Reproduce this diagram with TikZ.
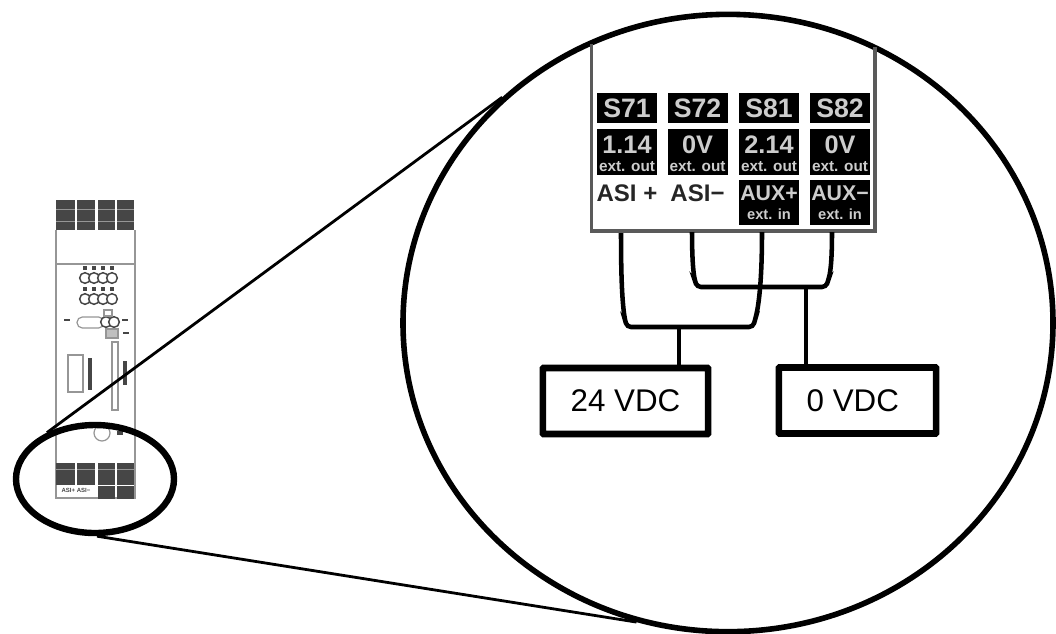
\documentclass[tikz,border=0pt]{standalone}
\usepackage{fontspec}
\setmainfont{Liberation Sans}
\usepackage{xcolor}
\usetikzlibrary{shapes.geometric}
\definecolor{panelgray}{RGB}{90,90,90}
\definecolor{devgray}{RGB}{150,150,150}
\definecolor{devdark}{RGB}{70,70,70}
\definecolor{termtext}{RGB}{205,205,205}

\begin{document}
\begin{tikzpicture}[x=0.75pt,y=-0.75pt]
	\tikzset{
		wire/.style={draw=black, line width=3.4pt, rounded corners=3pt},
		zoomline/.style={draw=black, line width=2.1pt},
		lens/.style={
			shape=ellipse,
			draw=black,
			line width=4.2pt,
			minimum width=487.5pt,
			minimum height=463pt,
			inner sep=0pt
		},
		spot/.style={
			shape=ellipse,
			draw=black,
			line width=4.8pt,
			minimum width=118.5pt,
			minimum height=81pt,
			inner sep=0pt
		},
		supply/.style={
			shape=rectangle,
			draw=black,
			line width=4.9pt,
			fill=white,
			rounded corners=0.5pt,
			minimum height=49.5pt,
			font=\fontsize{23.5}{26}\selectfont,
			text=black
		},
		termbox/.style={
			shape=rectangle,
			fill=black,
			minimum width=45pt,
			inner sep=0pt
		},
		termname/.style={font=\fontsize{20}{22}\selectfont\bfseries, text=termtext, inner sep=0pt},
		termval/.style={font=\fontsize{19}{21}\selectfont\bfseries, text=termtext, inner sep=0pt},
		termext/.style={font=\fontsize{11.5}{13}\selectfont\bfseries, text=termtext, inner sep=0pt},
		asilabel/.style={font=\fontsize{18}{20}\selectfont\bfseries, text=black!85, inner sep=0pt},
		devline/.style={draw=devgray, line width=0.9pt},
		devblock/.style={shape=rectangle, fill=devdark, inner sep=0pt},
		devled/.style={shape=circle, draw=devdark, line width=1.1pt, fill=white, minimum size=8pt, inner sep=0pt}
	}
	\clip (0,0) rectangle (1056,633);

	% small device
	\draw[devline] (56,230) -- (56,498) -- (135,498) -- (135,230);
	\draw[devline] (56,264) -- (135,264);
	\foreach \xa/\xb in {56/75, 77/95, 98/115, 117/134}{
		\node[devblock, minimum width={(\xb-\xa)*0.75pt}, minimum height=22.5pt] at ({(\xa+\xb)/2},215) {};
		\draw[devgray, line width=0.6pt] (\xa,209) -- (\xb,209) (\xa,221) -- (\xb,221);
		\node[devblock, minimum width={(\xb-\xa)*0.75pt}, minimum height=16.5pt] at ({(\xa+\xb)/2},474) {};
		\draw[devgray, line width=0.6pt] (\xa,469) -- (\xb,469);
	}
	\foreach \xa/\xb in {98/115, 117/134}{
		\node[devblock, minimum width={(\xb-\xa)*0.75pt}, minimum height=9.5pt] at ({(\xa+\xb)/2},492.5) {};
	}
	\node[font=\fontsize{4.5}{5}\selectfont\bfseries, text=devdark, inner sep=0pt] (devasi) at (76,490) {ASI+ ASI−};
	\foreach \ledy in {278,299}{
		\foreach \ledx in {85,94,103,112}{
			\node[devled] at (\ledx,\ledy) {};
			\node[devblock, minimum width=3.5pt, minimum height=3pt] at (\ledx,\ledy-10) {};
		}
	}
	\draw[devline, fill=white, rounded corners=4pt] (77,317) rectangle (104,328);
	\node[devled] at (106,322) {};
	\node[devled] at (114,322) {};
	\draw[devline] (104,310) rectangle (112,316);
	\draw[devline, fill=devgray!60] (106,329) rectangle (118,338);
	\node[devblock, minimum width=5pt, minimum height=2pt] at (67,320) {};
	\node[devblock, minimum width=5pt, minimum height=2pt] at (125,320) {};
	\node[devblock, minimum width=5pt, minimum height=2pt] at (126,333) {};
	\draw[devline] (112,342) rectangle (118,410);
	\node[devblock, minimum width=2.5pt, minimum height=18pt] at (125,373) {};
	\draw[devline] (68,355) rectangle (83,392);
	\node[devblock, minimum width=3pt, minimum height=24pt] at (90,374) {};
	\draw[devline] (102,433) circle (8);
	\node[devblock, minimum width=5pt, minimum height=3pt] at (120,433) {};

	% lens and spot
	\node[spot] (spot) at (95,479) {};
	\node[lens] (lens) at (728,323) {};
	\draw[zoomline] (spot.136) -- (lens.135);
	\draw[zoomline] (spot.272) -- (lens.253.5);

	% enlarged panel
	\draw[draw=panelgray, line width=2.6pt] (591.5,44) -- (591.5,231) -- (875,231) -- (875,47);
	\foreach \col/\xc/\tname/\tval in {a/627/S71/1.14, b/697.5/S72/0V, c/769/S81/2.14, d/840/S82/0V}{
		\node[termbox, minimum height=22.5pt] (name\col) at (\xc,108) {};
		\node[termname] at (name\col) {\tname};
		\node[termbox, minimum height=34.5pt] (val\col) at (\xc,152) {};
		\node[termval] at (\xc,145) {\tval};
		\node[termext] at (\xc,166.5) {ext. out};
	}
	\node[asilabel] at (627,193) {ASI +};
	\node[asilabel] at (697.5,193) {ASI−};
	\foreach \col/\xc/\tname in {c/769/AUX+, d/840/AUX−}{
		\node[termbox, minimum height=34pt] (aux\col) at (\xc,202.5) {};
		\node[font=\fontsize{16}{18}\selectfont\bfseries, text=termtext, inner sep=0pt] at (\xc,193) {\tname};
		\node[font=\fontsize{11}{13}\selectfont\bfseries, text=termtext, inner sep=0pt] at (\xc,214) {ext. in};
	}

	% supplies
	\node[supply, minimum width=124pt] (plus) at (625.5,401) {24 VDC};
	\node[supply, minimum width=118pt] (zero) at (857.5,400.5) {0 VDC\kern7pt};

	% wiring
	\coordinate (plusT) at (679,327);
	\coordinate (zeroT) at (806,287);
	\coordinate (asiP) at (621,233);
	\coordinate (asiM) at (692,232);
	\coordinate (auxP) at (762,232);
	\coordinate (auxM) at (832,232);
	\draw[wire] (asiP) .. controls (621,275) and (622,300) .. (625,320) -- (627,327) -- (plusT) -- (753,327) -- (755,320) .. controls (760,300) and (762,270) .. (auxP);
	\draw[wire] (asiM) .. controls (692,255) and (693,270) .. (695,281) -- (697,287) -- (zeroT) -- (826,287) -- (828,281) .. controls (831,270) and (832,255) .. (auxM);
	\draw[wire] (plusT) -- (plus.north -| plusT);
	\draw[wire] (zeroT) -- (zero.north -| zeroT);
\end{tikzpicture}
\end{document}
